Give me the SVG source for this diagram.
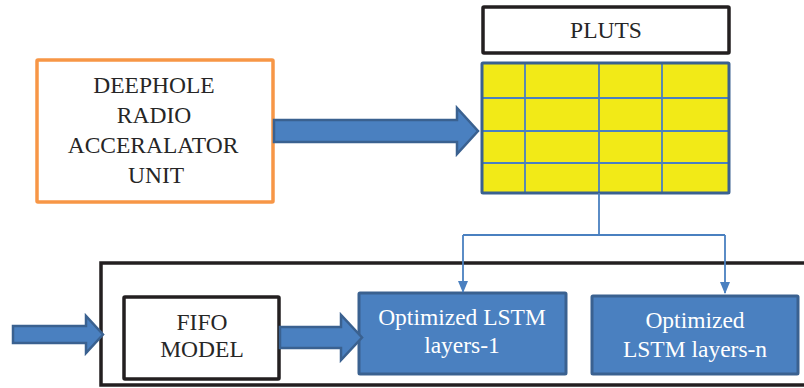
<svg xmlns="http://www.w3.org/2000/svg" width="804" height="388" viewBox="0 0 804 388">
<defs>
<style>
.t{font-family:"Liberation Serif","Times New Roman",serif;font-size:23.5px;fill:#262626;text-anchor:middle}
.w{fill:#ffffff}
.blk{fill:#ffffff;stroke:#231f20;stroke-width:3.5}
.fat{fill:#4a80c0;stroke:#3a6190;stroke-width:2.5;stroke-linejoin:miter}
.lstm{fill:#4a80c0;stroke:#3a6190;stroke-width:3}
.conn{fill:none;stroke:#4a80c0;stroke-width:1.8}
.grid{stroke:#4a80c0;stroke-width:1.8}
</style>
<marker id="ah" markerWidth="12" markerHeight="10" refX="11" refY="5" orient="auto" markerUnits="userSpaceOnUse">
<path d="M0,0 L12,5 L0,10 Z" fill="#4a80c0"/>
</marker>
</defs>
<rect width="804" height="388" fill="#ffffff"/>

<g id="container">
<rect x="101" y="263" width="720" height="122" fill="none" stroke="#231f20" stroke-width="3.5"/>
</g>

<g id="deephole">
<rect x="37" y="60" width="236" height="142" fill="#ffffff" stroke="#f79646" stroke-width="3.5" rx="1"/>
<text class="t" x="154" y="93">DEEPHOLE</text>
<text class="t" x="154" y="123">RADIO</text>
<text class="t" x="153" y="153">ACCERALATOR</text>
<text class="t" x="156" y="183">UNIT</text>
</g>

<g id="pluts">
<rect class="blk" x="483" y="7" width="246" height="46" rx="1"/>
<text class="t" x="606" y="38">PLUTS</text>
</g>

<g id="table">
<rect x="482" y="63" width="247" height="130" fill="#f2ea17"/>
<line class="grid" x1="525" y1="63" x2="525" y2="193"/>
<line class="grid" x1="599" y1="63" x2="599" y2="193"/>
<line class="grid" x1="662" y1="63" x2="662" y2="193"/>
<line class="grid" x1="482" y1="98" x2="729" y2="98"/>
<line class="grid" x1="482" y1="131" x2="729" y2="131"/>
<line class="grid" x1="482" y1="163" x2="729" y2="163"/>
<rect x="482" y="63" width="247" height="130" fill="none" stroke="#3a6190" stroke-width="3" rx="1"/>
</g>

<g id="fifo">
<rect class="blk" x="124" y="297" width="155" height="82" rx="1"/>
<text class="t" x="202" y="330">FIFO</text>
<text class="t" x="202" y="357">MODEL</text>
</g>

<g id="lstm1">
<rect class="lstm" x="359" y="293" width="207" height="81" rx="1"/>
<text class="t w" x="462" y="325">Optimized LSTM</text>
<text class="t w" x="462" y="353">layers-1</text>
</g>

<g id="lstmn">
<rect class="lstm" x="592" y="296" width="206" height="78" rx="1"/>
<text class="t w" x="695" y="328">Optimized</text>
<text class="t w" x="695" y="357">LSTM layers-n</text>
</g>

<g id="connectors">
<path class="fat" d="M274,120 L457,120 L457,108 L478,131 L457,154 L457,142 L274,142 Z"/>
<path class="fat" d="M13,326 L86,326 L86,316 L103,334.5 L86,353 L86,343 L13,343 Z"/>
<path class="fat" d="M280,327 L341,327 L341,315 L362,337.5 L341,360 L341,348 L280,348 Z"/>
<path class="conn" d="M599,193 L599,235"/>
<path class="conn" d="M463,235 L725,235"/>
<path class="conn" d="M463,235 L463,292" marker-end="url(#ah)"/>
<path class="conn" d="M725,235 L725,293" marker-end="url(#ah)"/>
</g>
</svg>
